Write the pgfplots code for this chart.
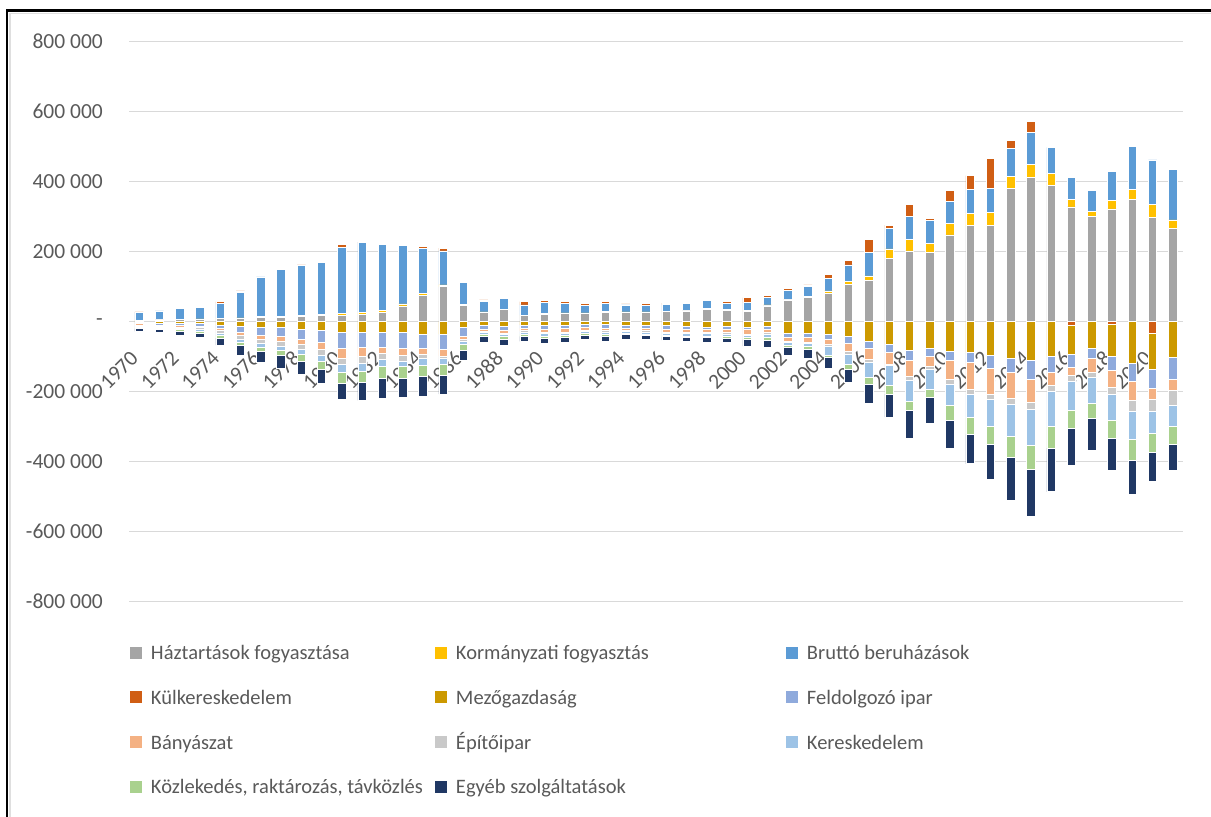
\documentclass[border=0pt]{standalone}
\usepackage{fontspec}
\setmainfont{Carlito}
\usepackage{pgfplots}
\usepackage{pgfplotstable}
\pgfplotsset{compat=1.18}
\definecolor{cHH}{HTML}{A5A5A5}
\definecolor{cGov}{HTML}{FFC000}
\definecolor{cInv}{HTML}{5B9BD5}
\definecolor{cTr}{HTML}{D05E14}
\definecolor{cAgr}{HTML}{CC9900}
\definecolor{cMan}{HTML}{8FAADC}
\definecolor{cMin}{HTML}{F4B183}
\definecolor{cCon}{HTML}{C9C9C9}
\definecolor{cTra}{HTML}{9DC3E6}
\definecolor{cTsp}{HTML}{A9D18E}
\definecolor{cOth}{HTML}{203864}
\definecolor{txt}{HTML}{595959}
\definecolor{gridc}{HTML}{D9D9D9}

\pgfplotstableread{
yr HH Gov Inv TrP
1970 3 1 22 2
1971 5 1 25 2
1972 6 1 30 2
1973 7 1 32 3
1974 9 1 42 5
1975 10 1 73 4
1976 12 2 114 2
1977 12 3 135 3
1978 14 4 143 1
1979 17 4 148 3
1980 19 5 188 9
1981 21 5 200 1
1982 27 6 188 0
1983 45 6 166 3
1984 76 5 128 7
1985 100 5 97 8
1986 46 4 62 3
1987 27 1 31 3
1988 34 1 31 4
1989 17 1 30 9
1990 21 2 31 7
1991 24 1 28 6
1992 24 1 22 6
1993 27 2 24 5
1994 27 1 20 3
1995 27 1 19 5
1996 29 1 19 4
1997 31 1 20 4
1998 36 2 22 1
1999 33 2 18 6
2000 30 2 22 15
2001 45 3 22 5
2002 62 2 25 7
2003 69 3 28 5
2004 81 7 36 12
2005 107 8 47 14
2006 119 12 66 38
2007 181 27 59 9
2008 202 33 65 36
2009 197 27 65 5
2010 248 33 63 30
2011 274 36 68 39
2012 274 39 68 85
2013 380 36 78 25
2014 413 37 90 33
2015 390 33 75 0
2016 328 22 62 0
2017 300 16 59 0
2018 322 24 84 0
2019 350 29 121 0
2020 298 38 126 0
2021 267 24 145 0
}\postab

\pgfplotstableread{
yr TrN Agr Man Min Con Tra Tsp Oth
1970 0 -3 -3 -3 -3 -4 -4 -8
1971 0 -5 -4 -3 -3 -3 -3 -9
1972 0 -6 -5 -4 -4 -4 -5 -11
1973 0 -6 -6 -5 -5 -5 -7 -12
1974 0 -10 -9 -7 -6 -6 -9 -20
1975 0 -12 -18 -9 -10 -9 -10 -27
1976 0 -15 -25 -11 -10 -11 -12 -31
1977 0 -17 -25 -15 -12 -12 -16 -35
1978 0 -22 -29 -14 -14 -14 -21 -35
1979 0 -24 -36 -19 -16 -17 -24 -40
1980 0 -30 -45 -31 -16 -24 -31 -46
1981 0 -29 -44 -26 -19 -24 -31 -52
1982 0 -29 -44 -18 -17 -19 -35 -58
1983 0 -31 -45 -19 -17 -16 -33 -54
1984 0 -37 -39 -17 -11 -22 -31 -55
1985 0 -36 -43 -19 -8 -16 -30 -55
1986 0 -17 -24 -10 -5 -10 -15 -30
1987 0 -10 -11 -7 -3 -6 -5 -17
1988 0 -12 -13 -8 -3 -6 -8 -18
1989 0 -9 -10 -7 -3 -7 -6 -14
1990 0 -9 -12 -8 -4 -8 -6 -14
1991 0 -9 -11 -9 -3 -7 -5 -14
1992 0 -7 -10 -7 -3 -7 -4 -13
1993 0 -8 -10 -7 -4 -7 -6 -15
1994 0 -10 -8 -6 -3 -5 -5 -12
1995 0 -10 -8 -8 -3 -7 -4 -10
1996 0 -10 -12 -8 -3 -7 -3 -10
1997 0 -13 -10 -8 -3 -8 -4 -10
1998 0 -15 -8 -7 -3 -8 -5 -13
1999 0 -14 -9 -8 -4 -8 -4 -13
2000 0 -16 -6 -13 -4 -7 -5 -19
2001 0 -14 -9 -8 -6 -9 -7 -21
2002 0 -32 -12 -11 -3 -10 -6 -21
2003 0 -32 -12 -14 -4 -9 -7 -27
2004 0 -35 -14 -17 -4 -25 -7 -32
2005 0 -42 -19 -25 -7 -29 -14 -38
2006 0 -56 -20 -32 -8 -43 -19 -55
2007 0 -64 -24 -33 -5 -55 -26 -66
2008 0 -83 -27 -47 -10 -60 -27 -80
2009 0 -76 -23 -29 -8 -57 -24 -73
2010 0 -85 -24 -57 -12 -60 -45 -80
2011 0 -88 -29 -76 -14 -67 -48 -84
2012 0 -97 -36 -75 -14 -76 -52 -100
2013 0 -105 -40 -74 -18 -90 -60 -122
2014 0 -111 -54 -65 -21 -103 -69 -134
2015 0 -99 -46 -38 -17 -99 -62 -125
2016 -10 -84 -35 -25 -15 -84 -52 -105
2017 0 -76 -30 -38 -14 -74 -45 -90
2018 -7 -91 -40 -50 -19 -76 -50 -92
2019 0 -120 -50 -56 -31 -78 -60 -97
2020 -33 -103 -54 -33 -33 -64 -53 -83
2021 0 -102 -62 -33 -41 -61 -50 -76
}\negtab

\pgfplotsset{
  sq/.style={legend image code/.code={\fill[##1,draw=none] (0pt,-6pt) rectangle (12pt,6pt);}},
  base/.style={
    scale only axis, width=1054pt, height=560pt,
    at={(129pt,215.3pt)}, anchor=south west,
    xmin=1969.5, xmax=2021.5, ymin=-800, ymax=800,
    ybar stacked, bar width=8.5pt,
    axis line style={draw=none}, major tick length=0pt,
    every axis plot post/.append style={sq},
  },
  bs/.style={fill=#1, draw=white, line width=0.6pt},
}
\newcommand{\fs}{\fontsize{21.5}{25}\selectfont}
\newcommand{\lfs}{\fontsize{20.5}{24}\selectfont}

\begin{document}
\begin{tikzpicture}
\useasboundingbox (0,0) rectangle (1211pt,817pt);
\begin{axis}[base,
  ymajorgrids, grid style={gridc, line width=1.5pt},
  ytick={-800,-600,...,800},
  yticklabels={-800 000,-600 000,-400 000,-200 000,-\hspace{10pt},200 000,400 000,600 000,800 000},
  yticklabel style={anchor=east, inner sep=0pt, xshift=-26pt, text=txt, font=\fs},
  xtick={1970,1972,...,2020},
  xticklabels={1970,1972,1974,1976,1978,1980,1982,1984,1986,1988,1990,1992,1994,1996,1998,2000,2002,2004,2006,2008,2010,2012,2014,2016,2018,2020},
  xticklabel style={xshift=-4.5pt, yshift=247pt, rotate=45, anchor=east, inner sep=0pt, text=txt, font=\fs},
]
\addplot[bs=cHH] table[x=yr,y=HH]{\postab};
\addplot[bs=cGov] table[x=yr,y=Gov]{\postab};
\addplot[bs=cInv] table[x=yr,y=Inv]{\postab};
\addplot[bs=cTr] table[x=yr,y=TrP]{\postab};
\end{axis}
\begin{axis}[base, xtick=\empty, ytick=\empty,
  legend columns=3, legend cell align=left,
  legend style={at={(axis description cs:0.00095,-0.0786)}, anchor=north west,
    draw=none, fill=none, inner sep=0pt, outer sep=0pt, font=\lfs, text=txt,
    /tikz/every odd column/.style={column sep=9pt},
    /tikz/every even column/.style={column sep=0pt},
    /tikz/row sep=30.7pt,
    nodes={inner sep=0pt, text height=14pt, text depth=0pt}},
]
\addlegendimage{fill=cHH, sq}\addlegendentry{\makebox[284pt][l]{Háztartások fogyasztása}}
\addlegendimage{fill=cGov, sq}\addlegendentry{\makebox[330pt][l]{Kormányzati fogyasztás}}
\addlegendimage{fill=cInv, sq}\addlegendentry{Bruttó beruházások}
\addplot[bs=cTr] table[x=yr,y=TrN]{\negtab};\addlegendentry{\makebox[284pt][l]{Külkereskedelem}}
\addplot[bs=cAgr] table[x=yr,y=Agr]{\negtab};\addlegendentry{\makebox[330pt][l]{Mezőgazdaság}}
\addplot[bs=cMan] table[x=yr,y=Man]{\negtab};\addlegendentry{Feldolgozó ipar}
\addplot[bs=cMin] table[x=yr,y=Min]{\negtab};\addlegendentry{\makebox[284pt][l]{Bányászat}}
\addplot[bs=cCon] table[x=yr,y=Con]{\negtab};\addlegendentry{\makebox[330pt][l]{Építőipar}}
\addplot[bs=cTra] table[x=yr,y=Tra]{\negtab};\addlegendentry{Kereskedelem}
\addplot[bs=cTsp] table[x=yr,y=Tsp]{\negtab};\addlegendentry{\makebox[284pt][l]{Közlekedés, raktározás, távközlés}}
\addplot[bs=cOth] table[x=yr,y=Oth]{\negtab};\addlegendentry{\makebox[330pt][l]{Egyéb szolgáltatások}}
\end{axis}
\draw[gray!25, line width=1.3pt] (10pt,0pt) -- (10pt,803.5pt) -- (1211pt,803.5pt);
\draw[black, line width=2.5pt] (7pt,0pt) -- (7pt,806.5pt) -- (1211pt,806.5pt);
\end{tikzpicture}
\end{document}
